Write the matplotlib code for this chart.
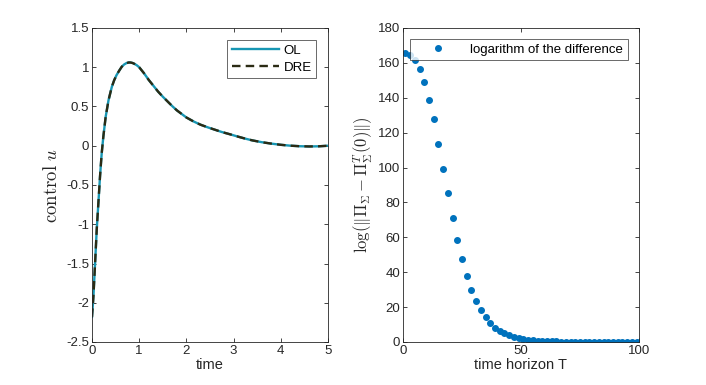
import matplotlib
matplotlib.use("Agg")
import matplotlib.pyplot as plt

plt.rcParams['font.family'] = ['Liberation Sans', 'DejaVu Sans']
plt.rcParams['mathtext.fontset'] = 'cm'

# Left panel: control u over time
time = [0, 0.03, 0.065, 0.1, 0.135, 0.17, 0.205, 0.24, 0.29, 0.35, 0.42, 0.47,
        0.52, 0.58, 0.63, 0.68, 0.73, 0.78, 0.82, 0.86, 0.9, 0.95, 1.0, 1.1,
        1.2, 1.3, 1.4, 1.5, 1.6, 1.7, 1.8, 1.9, 2.0, 2.15, 2.3, 2.45, 2.6,
        2.75, 2.9, 3.1, 3.25, 3.4, 3.6, 3.8, 4.0, 4.2, 4.4, 4.6, 4.8, 5.0]
u_ol = [-2.18, -1.92, -1.50, -1.07, -0.73, -0.39, -0.10, 0.115, 0.37, 0.58,
        0.75, 0.835, 0.90, 0.96, 1.006, 1.035, 1.053, 1.061, 1.060, 1.054,
        1.043, 1.025, 1.0, 0.925, 0.84, 0.765, 0.69, 0.625, 0.565, 0.505,
        0.45, 0.405, 0.36, 0.31, 0.268, 0.235, 0.205, 0.175, 0.15, 0.115,
        0.09, 0.068, 0.045, 0.027, 0.012, 0.001, -0.006, -0.009, -0.007, 0.0]
u_dre = list(u_ol)

# Right panel: log of the difference vs time horizon T
horizon = list(range(1, 100, 2))
log_diff = [165.7, 164.4, 161.5, 156.7, 149.1, 139.0, 127.6, 113.3, 99.4, 85.2,
            70.9, 58.7, 47.5, 37.8, 29.9, 23.3, 18.1, 14.1, 10.7, 8.2,
            6.3, 5.0, 3.8, 2.9, 2.1, 1.7, 1.3, 1.0, 0.8, 0.6,
            0.5, 0.4, 0.3, 0.25, 0.2, 0.15, 0.1, 0.1, 0.05, 0.05,
            0.05, 0.0, 0.0, 0.0, 0.0, 0.0, 0.0, 0.0, 0.0, 0.0]

W, H = 706, 385
fig = plt.figure(figsize=(W / 100, H / 100), dpi=100)
ax1 = fig.add_axes([92 / W, 1 - 342 / H, (328 - 92) / W, (342 - 28) / H])
ax2 = fig.add_axes([403 / W, 1 - 342 / H, (639 - 403) / W, (342 - 28) / H])

axc = '#262626'
for ax in (ax1, ax2):
    for s in ax.spines.values():
        s.set_color(axc)
        s.set_linewidth(0.6)
    ax.tick_params(direction='in', top=True, right=True, length=3,
                   width=0.6, color=axc, labelsize=9.5, labelcolor=axc, pad=2)

ax1.plot(time, u_ol, color='#1796b3', lw=1.7, label='OL')
ax1.plot(time, u_dre, color='#2b2b14', lw=1.7, ls=(0, (3.6, 2.2)), label='DRE')
ax1.set_xlim(0, 5)
ax1.set_ylim(-2.5, 1.5)
ax1.set_xticks([0, 1, 2, 3, 4, 5])
ax1.set_yticks([-2.5, -2, -1.5, -1, -0.5, 0, 0.5, 1, 1.5])
ax1.set_yticklabels(['-2.5', '-2', '-1.5', '-1', '-0.5', '0', '0.5', '1', '1.5'])
ax1.set_xlabel('time', fontsize=10.5, color=axc, labelpad=1)
ax1.set_ylabel(r'$\mathrm{control}\ u$', fontsize=13.5, color=axc, labelpad=4)
leg1 = ax1.legend(loc='upper right', fontsize=9.5, frameon=True, fancybox=False,
                  edgecolor=axc, handlelength=3.6, handletextpad=0.3,
                  borderaxespad=0.9, borderpad=0.35, labelspacing=0.35)
leg1.get_frame().set_linewidth(0.6)

ax2.plot(horizon, log_diff, ls='none', marker='o', ms=4, color='#0072BD',
         label='logarithm of the difference')
ax2.set_xlim(0, 100)
ax2.set_ylim(0, 180)
ax2.set_xticks([0, 50, 100])
ax2.set_yticks(range(0, 181, 20))
ax2.set_xlabel('time horizon T', fontsize=10.5, color=axc, labelpad=1)
ax2.set_ylabel(r'$\log(\|\Pi_\Sigma - \Pi_\Sigma^T(0)\|)$', fontsize=12,
               color=axc, labelpad=2)
leg2 = ax2.legend(loc='upper left', bbox_to_anchor=(0.03, 0.965), fontsize=9.5,
                  frameon=True, fancybox=False, edgecolor=axc,
                  handlelength=3.6, handletextpad=0.6, borderpad=0.35,
                  borderaxespad=0)
leg2.get_frame().set_linewidth(0.6)

fig.savefig('out.png', dpi=100)
